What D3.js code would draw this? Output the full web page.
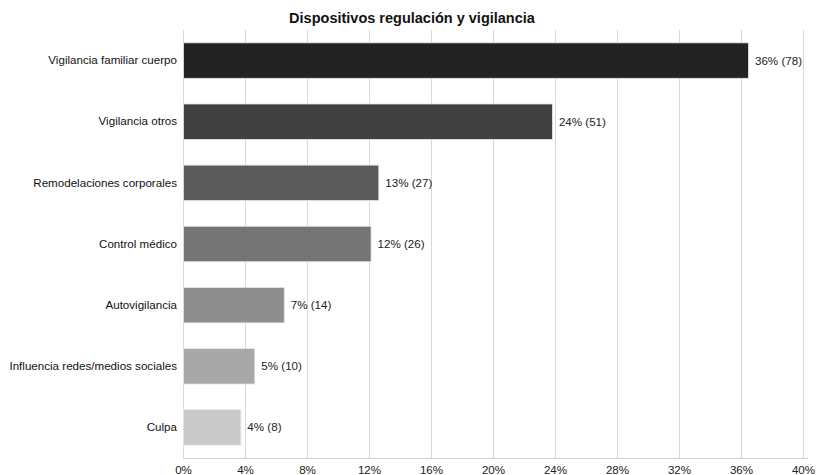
<!DOCTYPE html>
<html><head><meta charset="utf-8">
<script src="https://cdn.jsdelivr.net/npm/d3@7"></script>
<style>body{margin:0;background:#fff}svg{display:block;font-family:"Liberation Sans",Arial,Helvetica,sans-serif}</style>
</head><body>
<svg id="c" width="817" height="475"></svg>
<script>
const categories = ["Vigilancia familiar cuerpo","Vigilancia otros","Remodelaciones corporales","Control médico","Autovigilancia","Influencia redes/medios sociales","Culpa"];
const percents = [36.45, 23.8, 12.6, 12.1, 6.5, 4.6, 3.7];
const counts = [78, 51, 27, 26, 14, 10, 8];
const colors = ["#232323","#404040","#5a5a5a","#747474","#8e8e8e","#a8a8a8","#c9c9c9"];
const tickValues = [0,4,8,12,16,20,24,28,32,36,40];
const title = "Dispositivos regulación y vigilancia";

const svg = d3.select("#c");
const m = {left:183, right:803, top:30, bottom:458};
const x = d3.scaleLinear().domain([0,40]).range([m.left, m.right]);
const y = d3.scaleBand().domain(categories).range([m.top, m.bottom]).paddingInner(0.42).paddingOuter(0.21);

svg.append("text").attr("x", 412).attr("y", 23).attr("text-anchor","middle")
  .attr("font-size", 14.5).attr("font-weight","bold").attr("fill","#111").text(title);

// grid
svg.append("g").selectAll("line").data(tickValues).join("line")
  .attr("x1", d=>x(d)+0.5).attr("x2", d=>x(d)+0.5).attr("y1", m.top).attr("y2", m.bottom)
  .attr("stroke","#d9d9d9").attr("stroke-width",1);

// x axis
const xa = svg.append("g").attr("transform",`translate(0,${m.bottom+0.5})`)
  .call(d3.axisBottom(x).tickValues(tickValues).tickFormat(d=>d+"%").tickSize(0).tickPadding(7));
xa.select(".domain").attr("stroke","#cfcfcf").attr("d",`M${m.left},0H${m.right+5}`);
xa.selectAll("text").attr("font-size",11.6).attr("fill","#222").attr("font-family","Liberation Sans, Arial, sans-serif");

// bars
const data = categories.map((c,i)=>({c, p:percents[i], n:counts[i], col:colors[i]}));
svg.append("g").selectAll("rect").data(data).join("rect")
  .attr("x", x(0)+0.5).attr("y", d=>y(d.c)).attr("width", d=>x(d.p)-x(0)).attr("height", y.bandwidth())
  .attr("fill", d=>d.col).attr("stroke","#e6e6e6").attr("stroke-width",0.8);

// category labels
const ya = svg.append("g").attr("transform",`translate(${m.left},0)`)
  .call(d3.axisLeft(y).tickSize(0).tickPadding(6));
ya.select(".domain").remove();
ya.selectAll("text").attr("font-size",11.6).attr("fill","#111").attr("font-family","Liberation Sans, Arial, sans-serif");

// value labels
svg.append("g").selectAll("text").data(data).join("text")
  .attr("x", d=>x(d.p)+7).attr("y", d=>y(d.c)+y.bandwidth()/2).attr("dy","0.35em")
  .attr("font-size",11.6).attr("fill","#222")
  .text(d=>`${Math.round(d.p)}% (${d.n})`);
</script>
</body></html>
